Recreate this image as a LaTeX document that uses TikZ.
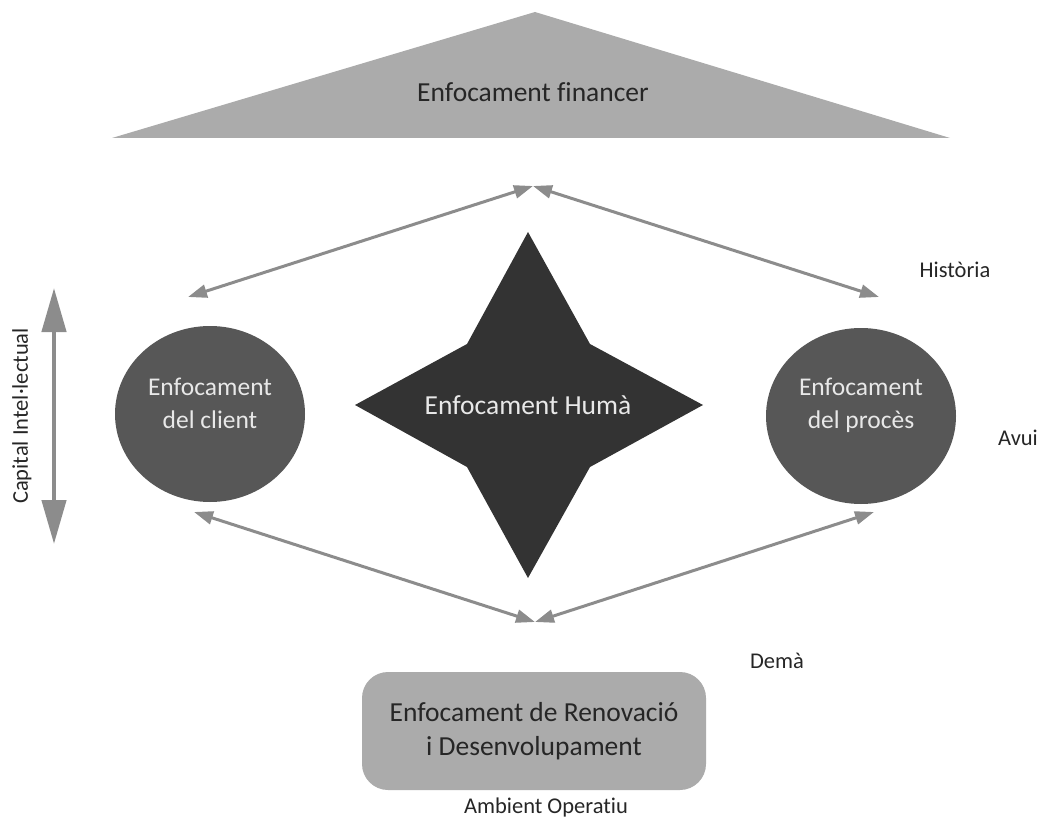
\documentclass[tikz,border=0pt]{standalone}
\usepackage{fontspec}
\setmainfont[Ligatures=NoCommon]{Carlito}
\usetikzlibrary{arrows.meta,shapes.geometric}
\definecolor{lightfill}{HTML}{ABABAB}
\definecolor{midfill}{HTML}{575757}
\definecolor{darkfill}{HTML}{333333}
\definecolor{arrowgray}{HTML}{8C8C8C}
\definecolor{inktext}{HTML}{262626}
\definecolor{paletext}{HTML}{E8E8E8}
\begin{document}
\begin{tikzpicture}[x=1pt,y=-1pt,
  maintext/.style={font=\fontsize{27.5}{34}\selectfont, align=center},
  sidelabel/.style={font=\fontsize{22.5}{27}\selectfont, text=inktext},
  focus/.style={ellipse, fill=midfill, minimum width=190pt, minimum height=176pt, inner sep=0pt},
  focustext/.style={font=\fontsize{25.5}{33}\selectfont, align=center, text=paletext},
  link/.style={draw=arrowgray, line width=3pt, {Triangle[length=19pt,width=13pt]}-{Triangle[length=19pt,width=13pt]}},
  bigaxis/.style={draw=arrowgray, line width=4.5pt, {Triangle[length=44pt,width=24pt]}-{Triangle[length=44pt,width=24pt]}}
]
\useasboundingbox (0,0) rectangle (1042,837);

% financial perspective: wide roof triangle
\fill[lightfill] (112,138) -- (535,12) -- (950,138) -- cycle;
\node[maintext, text=inktext] (fin) at (533,92) {Enfocament financer};

% human perspective: four-pointed star
\fill[darkfill] (528,232) -- (590,344) -- (703,405) -- (590,467) -- (528,578)
  -- (467,467) -- (355,405) -- (467,344) -- cycle;
\node[maintext, text=paletext] (hum) at (528,405) {Enfocament Humà};

% client and process perspectives
\node[focus] (client) at (210,414) {};
\node[focustext] (clientT) at (210,403) {Enfocament\\del client};
\node[focus] (proces) at (861,416) {};
\node[focustext] (procesT) at (861,405) {Enfocament\\del procès};

% renewal and development perspective
\node[maintext, fill=lightfill, text=inktext, rounded corners=26pt,
      minimum width=344pt, minimum height=118pt] (renov) at (534,731)
      {Enfocament de Renovació\\i Desenvolupament};

% meeting points of the connectors
\coordinate (topmeet) at (533,186);
\coordinate (botmeet) at (535,622);
\coordinate (clientN) at (188,297);
\coordinate (procesN) at (879,297);
\coordinate (clientS) at (194,512);
\coordinate (procesS) at (874,512);

\draw[link] (clientN) -- (topmeet);
\draw[link] (procesN) -- (topmeet);
\draw[link] (clientS) -- (botmeet);
\draw[link] (procesS) -- (botmeet);

% intellectual capital axis
\coordinate (axtop) at (54,288);
\coordinate (axbot) at (54,544);
\draw[bigaxis] (axtop) -- (axbot);
\node[sidelabel, rotate=90] (cap) at (22,416) {Capital Intel·lectual};

% time labels
\node[sidelabel] (hist) at (955,270) {Història};
\node[sidelabel] (avui) at (1018,438) {Avui};
\node[sidelabel] (dema) at (777,661) {Demà};
\node[sidelabel] (amb) at (546,807) {Ambient Operatiu};
\end{tikzpicture}
\end{document}
